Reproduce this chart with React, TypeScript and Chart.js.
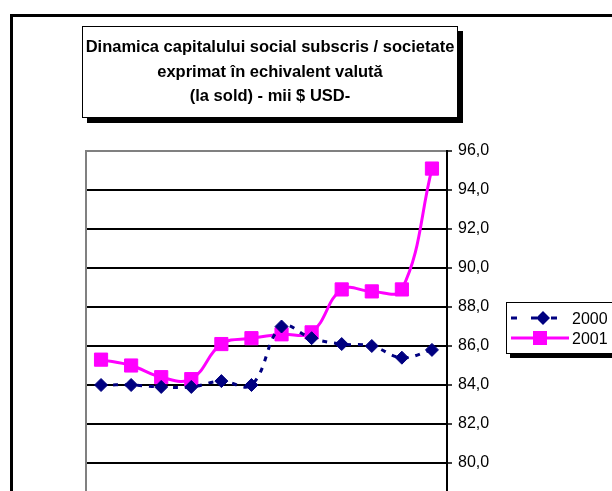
import React, { useEffect, useRef } from "react";
import { Chart, registerables } from "chart.js";

Chart.register(...registerables);

const categories = ["ian", "feb", "mar", "apr", "mai", "iun", "iul", "aug", "sep", "oct", "nov", "dec"];
const series2000 = [84.0, 84.0, 83.9, 83.9, 84.2, 84.0, 87.0, 86.4, 86.1, 86.0, 85.4, 85.8];
const series2001 = [85.3, 85.0, 84.4, 84.3, 86.1, 86.4, 86.6, 86.7, 88.9, 88.8, 88.9, 95.1];
const seriesNames = ["2000", "2001"];
const yMin = 76;
const yMax = 96;
const yStep = 2;
const titleLines = [
  "Dinamica capitalului social subscris / societate",
  "exprimat în echivalent valută",
  "(la sold) - mii $ USD-",
];

const NAVY = "#000080";
const MAGENTA = "#FF00FF";
const FONT = "'Liberation Sans', Arial, Helvetica, sans-serif";

const plotBorder = {
  id: "plotBorder",
  afterDraw(chart: any) {
    const { ctx, chartArea } = chart;
    ctx.save();
    ctx.strokeStyle = "#808080";
    ctx.lineWidth = 2;
    ctx.beginPath();
    ctx.moveTo(chartArea.left, chartArea.top - 1);
    ctx.lineTo(chartArea.left, chartArea.bottom);
    ctx.stroke();
    ctx.restore();
  },
};

export default function App() {
  const canvasRef = useRef<HTMLCanvasElement | null>(null);

  useEffect(() => {
    if (!canvasRef.current) return;
    const chart = new Chart(canvasRef.current, {
      type: "line",
      data: {
        labels: categories,
        datasets: [
          {
            label: seriesNames[0],
            data: series2000,
            borderColor: NAVY,
            backgroundColor: NAVY,
            borderWidth: 3,
            borderDash: [5, 7],
            tension: 0.4,
            pointStyle: "rectRot",
            pointRadius: 6.5,
            pointBorderWidth: 1,
            pointBorderColor: NAVY,
            pointBackgroundColor: NAVY,
          },
          {
            label: seriesNames[1],
            data: series2001,
            borderColor: MAGENTA,
            backgroundColor: MAGENTA,
            borderWidth: 3,
            tension: 0.4,
            pointStyle: "rect",
            pointRadius: 9.3,
            pointBorderWidth: 1,
            pointBorderColor: MAGENTA,
            pointBackgroundColor: MAGENTA,
          },
        ],
      },
      options: {
        responsive: false,
        animation: false,
        devicePixelRatio: 1,
        layout: { padding: { top: 151, left: 86, right: 85, bottom: 19 } },
        plugins: {
          legend: { display: false },
          title: { display: false },
          tooltip: { enabled: false },
        },
        scales: {
          x: {
            display: false,
            offset: true,
            grid: { display: false },
          },
          y: {
            position: "right",
            min: yMin,
            max: yMax,
            afterFit: (scale: any) => {
              scale.width = 80;
            },
            ticks: {
              stepSize: yStep,
              color: "#000",
              padding: 6,
              font: { family: FONT, size: 16 },
              callback: (v: any) => Number(v).toFixed(1).replace(".", ","),
            },
            grid: {
              color: (ctx: any) => (ctx.tick && ctx.tick.value === yMax ? "#808080" : "#000"),
              lineWidth: 2,
              tickLength: 5,
              tickColor: "#000",
              tickWidth: 1.5,
            },
            border: { display: true, color: "#000", width: 2 },
          },
        },
      },
      plugins: [plotBorder],
    });
    return () => chart.destroy();
  }, []);

  return (
    <div
      style={{
        position: "fixed",
        left: 0,
        top: 0,
        width: 612,
        height: 491,
        overflow: "hidden",
        background: "#fff",
        fontFamily: FONT,
      }}
    >
      <canvas
        ref={canvasRef}
        width={612}
        height={560}
        style={{ position: "absolute", left: 0, top: 0, display: "block" }}
      />
      <div
        style={{
          position: "absolute",
          left: 10,
          top: 14,
          width: 700,
          height: 600,
          border: "3px solid #000",
          boxSizing: "border-box",
          pointerEvents: "none",
        }}
      />
      <div
        style={{
          position: "absolute",
          left: 82,
          top: 26,
          width: 376,
          height: 92,
          boxSizing: "border-box",
          border: "1px solid #000",
          boxShadow: "5px 5px 0 #000",
          background: "#fff",
          textAlign: "center",
          fontWeight: "bold",
          fontSize: 16.5,
          lineHeight: "24.5px",
          paddingTop: 7,
          color: "#000",
        }}
      >
        {titleLines.map((t, i) => (
          <div key={i}>{t}</div>
        ))}
      </div>
      <div
        style={{
          position: "absolute",
          left: 506,
          top: 302,
          width: 110,
          height: 52,
          boxSizing: "border-box",
          border: "1px solid #000",
          boxShadow: "4px 4px 0 #000",
          background: "#fff",
        }}
      >
        <svg width={64} height={50} style={{ position: "absolute", left: 0, top: 0 }}>
          <line x1={4} y1={15} x2={62} y2={15} stroke={NAVY} strokeWidth={3} strokeDasharray="6 14" strokeDashoffset={0} />
          <polygon points="36,8 43,15 36,22 29,15" fill={NAVY} />
          <line x1={4} y1={35} x2={62} y2={35} stroke={MAGENTA} strokeWidth={3} />
          <rect x={26} y={28} width={14} height={14} fill={MAGENTA} />
        </svg>
        <div style={{ position: "absolute", left: 65, top: 6, fontSize: 16, lineHeight: "20px", color: "#000" }}>
          {seriesNames[0]}
        </div>
        <div style={{ position: "absolute", left: 65, top: 26, fontSize: 16, lineHeight: "20px", color: "#000" }}>
          {seriesNames[1]}
        </div>
      </div>
    </div>
  );
}
